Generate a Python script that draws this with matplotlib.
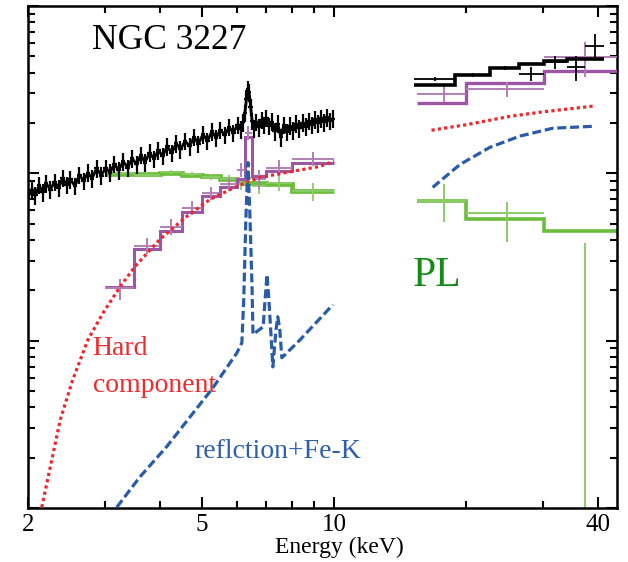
import numpy as np
import matplotlib
matplotlib.use("Agg")
import matplotlib.pyplot as plt
from matplotlib.ticker import FixedLocator, NullFormatter, FixedFormatter

plt.rcParams['font.family'] = ['Liberation Serif', 'DejaVu Serif']

# --- XIS (2-10 keV) black spectrum ---
xis_e = [2.00, 2.04, 2.08, 2.12, 2.16, 2.20, 2.25, 2.30, 2.35, 2.40, 2.45, 2.50,
         2.56, 2.62, 2.68, 2.74, 2.80, 2.87, 2.94, 3.01, 3.08, 3.15, 3.22, 3.30,
         3.38, 3.46, 3.54, 3.62, 3.70, 3.79, 3.88, 3.97, 4.06, 4.16, 4.26, 4.36,
         4.46, 4.57, 4.68, 4.79, 4.90, 5.02, 5.14, 5.26, 5.38, 5.50, 5.63, 5.76,
         5.89, 6.02, 6.12, 6.20, 6.26, 6.31, 6.36, 6.40, 6.45, 6.50, 6.57, 6.65,
         6.74, 6.83, 6.92, 7.01, 7.10, 7.20, 7.32, 7.44, 7.56, 7.68, 7.80, 7.93,
         8.06, 8.20, 8.34, 8.48, 8.62, 8.76, 8.90, 9.05, 9.20, 9.35, 9.50, 9.65,
         9.80, 9.95]
xis_v = [0.72, 0.80, 0.74, 0.85, 0.77, 0.87, 0.80, 0.89, 0.82, 0.94, 0.85, 0.92,
         0.84, 0.98, 0.90, 1.01, 0.93, 1.07, 0.97, 1.08, 1.01, 1.14, 1.04, 1.18,
         1.08, 1.23, 1.13, 1.29, 1.16, 1.33, 1.22, 1.37, 1.27, 1.45, 1.32, 1.51,
         1.39, 1.56, 1.45, 1.65, 1.50, 1.71, 1.56, 1.78, 1.63, 1.82, 1.69, 1.89,
         1.74, 1.95, 1.83, 2.02, 2.30, 2.80, 3.20, 3.05, 2.50, 2.05, 1.86, 2.03,
         1.88, 2.09, 1.94, 2.14, 1.92, 2.04, 1.78, 1.98, 1.64, 1.95, 1.77, 1.93,
         1.81, 1.98, 1.86, 2.01, 1.90, 2.06, 1.95, 2.10, 1.99, 2.13, 2.02, 2.16,
         2.05, 2.12]

# --- HXD (15-45 keV) black data + model ---
hxd_edges = [15.2, 18.9, 22.7, 26.5, 30.1, 34.1, 37.5, 41.4]
hxd_model = [3.36, 3.86, 4.25, 4.49, 4.68, 4.82, 4.82]
hxd_e = [17.0, 20.8, 24.6, 28.2, 31.9, 35.8, 39.4]
hxd_v = [3.66, 3.86, 4.25, 3.92, 4.62, 4.31, 5.76]
hxd_lo = [3.55, 3.76, 4.12, 3.56, 4.20, 3.56, 4.74]
hxd_hi = [3.78, 3.97, 4.38, 4.33, 5.02, 5.02, 6.80]

# --- purple (hard component, folded) ---
pur_edges = [3.0, 3.5, 4.0, 4.5, 5.0, 5.5, 6.0, 6.25, 6.5, 7.0, 8.0, 10.0]
pur_model = [0.208, 0.351, 0.450, 0.584, 0.728, 0.824, 0.92, 1.64, 0.97, 1.03, 1.16]
pur_v = [0.205, 0.37, 0.48, 0.62, 0.76, 0.86, 1.05, 1.75, 0.93, 1.08, 1.22]
pur_err = [0.03, 0.04, 0.05, 0.06, 0.07, 0.08, 0.10, 0.16, 0.12, 0.12, 0.12]
pur_hx_edges = [15.5, 20.0, 30.1, 47.0]
pur_hx_model = [2.62, 3.46, 4.08]
pur_hx_e = [17.8, 24.9, 37.4]
pur_hx_v = [2.97, 3.18, 4.95]
pur_hx_lo = [2.66, 2.85, 3.76]
pur_hx_hi = [3.41, 3.51, 6.10]

# --- green (PL) ---
grn_model = [0.99, 0.99, 1.00, 0.98, 0.96, 0.92, 0.90, 0.88, 0.87, 0.86, 0.78]
grn_v = [1.00, 0.98, 1.02, 0.99, 0.95, 0.93, 0.86, 0.94, 0.84, 0.88, 0.78]
grn_err = [0.02, 0.02, 0.03, 0.03, 0.04, 0.05, 0.07, 0.09, 0.09, 0.10, 0.10]
grn_hx_model = [0.68, 0.53, 0.455]
grn_hx_v = [0.68, 0.576, 0.003]
grn_hx_lo = [0.509, 0.39, 0.0005]
grn_hx_hi = [0.859, 0.67, 0.386]

# --- red dotted: hard component ---
red_e = [2.15, 2.25, 2.37, 2.53, 2.74, 2.97, 3.25, 3.51, 4.00, 4.61, 5.21, 6.00,
         6.78, 7.81, 9.28, 10.0]
red_v = [0.0101, 0.0177, 0.0337, 0.0583, 0.101, 0.147, 0.211, 0.277, 0.403,
         0.553, 0.699, 0.836, 0.946, 1.014, 1.10, 1.18]
red_hx_e = [16.7, 20.0, 25.2, 30.0, 39.0]
red_hx_v = [1.81, 1.95, 2.19, 2.33, 2.52]

# --- blue dashed: reflection + Fe-K ---
blu_e = [3.19, 3.60, 4.15, 5.29, 6.00, 6.16, 6.22, 6.29, 6.36, 6.43, 6.50, 6.53,
         6.89, 6.96, 7.03, 7.10, 7.25, 7.37, 7.44, 7.52, 7.60, 8.36, 9.94]
blu_v = [0.0101, 0.0153, 0.0233, 0.0523, 0.0845, 0.0973, 0.176, 0.53, 1.16, 0.53,
         0.202, 0.109, 0.121, 0.176, 0.248, 0.176, 0.0697, 0.116, 0.139, 0.116,
         0.079, 0.101, 0.164]
blu_hx_e = [16.8, 19.4, 22.7, 26.6, 31.6, 39.1]
blu_hx_v = [0.824, 1.13, 1.43, 1.67, 1.86, 1.91]

BLACK = '#000000'
PURPLE = '#9c57a4'
PURPLE_L = '#b17fb6'
GREEN = '#6bbd3c'
GREEN_L = '#8ccc68'
RED = '#f0262c'
BLUE = '#2a5ba9'

fig = plt.figure(figsize=(6.28, 5.62), dpi=100)
ax = fig.add_axes([28/628, 1-508/562, 589/628, 502/562])
ax.set_xscale('log')
ax.set_yscale('log')

lo_edges = np.array(pur_edges[:-1])
hi_edges = np.array(pur_edges[1:])
gc = np.sqrt(lo_edges * hi_edges)
hx_lo_e = np.array(pur_hx_e) - np.array(pur_hx_edges[:-1])
hx_hi_e = np.array(pur_hx_edges[1:]) - np.array(pur_hx_e)

# green PL
ax.stairs(grn_model, pur_edges, baseline=None, color=GREEN, lw=3.4, zorder=2)
ax.errorbar(gc, grn_v, xerr=[gc - lo_edges, hi_edges - gc], yerr=np.array(grn_err),
            fmt='none', ecolor=GREEN_L, elinewidth=1.3, zorder=2)
ax.stairs(grn_hx_model, pur_hx_edges, baseline=None, color=GREEN, lw=2.6, zorder=2)
ax.errorbar(pur_hx_e, grn_hx_v, xerr=[hx_lo_e, hx_hi_e],
            yerr=[np.array(grn_hx_v) - np.array(grn_hx_lo), np.array(grn_hx_hi) - np.array(grn_hx_v)],
            fmt='none', ecolor=GREEN_L, elinewidth=1.4, zorder=2)

# purple
ax.stairs(pur_model, pur_edges, baseline=None, color=PURPLE, lw=2.2, zorder=3)
ax.errorbar(gc, pur_v, xerr=[gc - lo_edges, hi_edges - gc], yerr=np.array(pur_err),
            fmt='none', ecolor=PURPLE_L, elinewidth=1.4, zorder=3)
ax.stairs(pur_hx_model, pur_hx_edges, baseline=None, color=PURPLE, lw=2.4, zorder=3)
ax.errorbar(pur_hx_e, pur_hx_v, xerr=[hx_lo_e, hx_hi_e],
            yerr=[np.array(pur_hx_v) - np.array(pur_hx_lo), np.array(pur_hx_hi) - np.array(pur_hx_v)],
            fmt='none', ecolor=PURPLE_L, elinewidth=1.4, zorder=3)

# black data
xe = np.array(xis_e)
xv = np.array(xis_v)
ax.errorbar(xe, xv, xerr=xe * 0.012, yerr=xv * 0.12, fmt='none', ecolor=BLACK,
            elinewidth=1.6, zorder=4)
ax.plot(xe, xv, color=BLACK, lw=2.0, zorder=4)
ax.stairs(hxd_model, hxd_edges, baseline=None, color=BLACK, lw=2.6, zorder=4)
he = np.array(hxd_e)
hv = np.array(hxd_v)
ax.errorbar(he, hv, xerr=[he - np.array(hxd_edges[:-1]), np.array(hxd_edges[1:]) - he],
            yerr=[hv - np.array(hxd_lo), np.array(hxd_hi) - hv],
            fmt='none', ecolor=BLACK, elinewidth=1.3, zorder=4)

# model components
ax.plot(red_e, red_v, color=RED, lw=2.3, ls=(0, (1, 1)), zorder=5)
ax.plot(red_hx_e, red_hx_v, color=RED, lw=2.3, ls=(0, (1, 1)), zorder=5)
ax.plot(blu_e, blu_v, color=BLUE, lw=2.3, ls=(0, (2.8, 1.2)), zorder=6)
ax.plot(blu_hx_e, blu_hx_v, color=BLUE, lw=2.3, ls=(0, (2.8, 1.2)), zorder=6)

ax.set_xlim(2, 44.3)
ax.set_ylim(0.01, 10)

ax.xaxis.set_major_locator(FixedLocator([2, 5, 10, 40]))
ax.xaxis.set_major_formatter(FixedFormatter(['2', '5', '10', '40']))
ax.xaxis.set_minor_locator(FixedLocator([3, 4, 6, 7, 8, 9, 20, 30]))
ax.xaxis.set_minor_formatter(NullFormatter())
ax.tick_params(which='both', direction='in', top=True, right=True, width=1.5,
               labelsize=18, pad=4, labelleft=False)
ax.tick_params(which='major', length=8)
ax.tick_params(which='minor', length=5)
for s in ax.spines.values():
    s.set_linewidth(1.8)

ax.set_xlabel('Energy (keV)', fontsize=17)
ax.xaxis.set_label_coords(0.528, -0.058)

ax.text(2.80, 5.53, 'NGC 3227', fontsize=25.5, color='black')
ax.text(15.1, 0.211, 'PL', fontsize=30, color='#158c15')
ax.text(2.81, 0.0825, 'Hard', fontsize=20, color='#ee2b2e')
ax.text(2.81, 0.0496, 'component', fontsize=20, color='#ee2b2e')
ax.text(4.81, 0.0198, 'reflction+Fe-K', fontsize=20, color='#2d5fae')

fig.savefig('out.png', dpi=100)
